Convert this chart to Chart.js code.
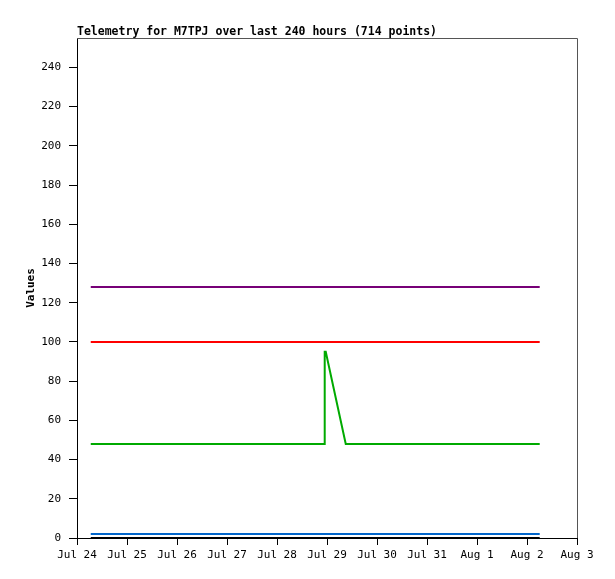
<!DOCTYPE html>
<html>
<head>
<meta charset="utf-8">
<script src="https://cdn.jsdelivr.net/npm/chart.js@4/dist/chart.umd.min.js"></script>
<style>
  body { margin: 0; background: #fff; }
  canvas { display: block; }
</style>
</head>
<body>
<canvas id="telemetry" width="615" height="579"></canvas>
<script>
// Hours since Jul 24 00:00
const dayLabels = ['Jul 24', 'Jul 25', 'Jul 26', 'Jul 27', 'Jul 28', 'Jul 29', 'Jul 30', 'Jul 31', 'Aug 1', 'Aug 2', 'Aug 3'];
const flatHours = [6.6, 222.1];
const ch1Values = [128, 128];   // purple
const ch2Values = [100, 100];   // red
const ch4Values = [2, 2];       // blue
const ch5Values = [0, 0];       // black
const ch3Hours = [6.6, 118.9, 118.9, 119.4, 129.0, 222.1];
const ch3Values = [48, 48, 95, 95, 48, 48]; // green

const toPoints = (xs, ys) => xs.map((x, i) => ({ x: x, y: ys[i] }));
const monoFont = "'DejaVu Sans Mono', 'Liberation Mono', monospace";

// top and right frame lines, plus title
const framePlugin = {
    id: 'frame',
    afterDraw(chart) {
        const { ctx, chartArea } = chart;
        ctx.save();
        ctx.strokeStyle = '#555';
        ctx.lineWidth = 1;
        ctx.beginPath();
        ctx.moveTo(chartArea.left, chartArea.top + 0.5);
        ctx.lineTo(chartArea.right + 0.5, chartArea.top + 0.5);
        ctx.lineTo(chartArea.right + 0.5, chartArea.bottom);
        ctx.stroke();
        ctx.fillStyle = '#000';
        ctx.font = 'bold 11.5px ' + monoFont;
        ctx.textBaseline = 'alphabetic';
        ctx.fillText('Telemetry for M7TPJ over last 240 hours (714 points)', chartArea.left, 35);
        ctx.restore();
    }
};

const lineStyle = { borderWidth: 2, pointRadius: 0, fill: false, tension: 0 };

new Chart(document.getElementById('telemetry'), {
    type: 'line',
    data: {
        datasets: [
            Object.assign({ data: toPoints(flatHours, ch5Values), borderColor: '#000000' }, lineStyle),
            Object.assign({ data: toPoints(flatHours, ch4Values), borderColor: '#0066cc' }, lineStyle),
            Object.assign({ data: toPoints(ch3Hours, ch3Values), borderColor: '#00aa00' }, lineStyle),
            Object.assign({ data: toPoints(flatHours, ch2Values), borderColor: '#ff0000' }, lineStyle),
            Object.assign({ data: toPoints(flatHours, ch1Values), borderColor: '#770077' }, lineStyle)
        ]
    },
    options: {
        responsive: false,
        animation: false,
        layout: { padding: { top: 38, right: 38, bottom: 0, left: 0 } },
        plugins: { legend: { display: false }, tooltip: { enabled: false } },
        scales: {
            x: {
                type: 'linear',
                min: 0,
                max: 240,
                afterFit: s => { s.height = 41; },
                border: { display: true, color: '#000', width: 1 },
                grid: { drawOnChartArea: false, drawTicks: true, tickLength: 7, color: '#000' },
                ticks: {
                    stepSize: 24,
                    autoSkip: false,
                    maxRotation: 0,
                    padding: 4,
                    color: '#000',
                    font: { family: monoFont, size: 11 },
                    callback: v => dayLabels[Math.round(v / 24)]
                }
            },
            y: {
                min: 0,
                max: 255,
                afterFit: s => { s.width = 77; },
                afterBuildTicks: s => { s.ticks = s.ticks.filter(t => t.value % 20 === 0); },
                border: { display: true, color: '#000', width: 1 },
                grid: { drawOnChartArea: false, drawTicks: true, tickLength: 8, color: '#000' },
                ticks: {
                    stepSize: 20,
                    padding: 8,
                    color: '#000',
                    font: { family: monoFont, size: 11 }
                },
                title: {
                    display: true,
                    text: 'Values',
                    color: '#000',
                    font: { family: monoFont, size: 11, weight: 'bold' },
                    padding: { top: 25, bottom: 0 }
                }
            }
        }
    },
    plugins: [framePlugin]
});
</script>
</body>
</html>
